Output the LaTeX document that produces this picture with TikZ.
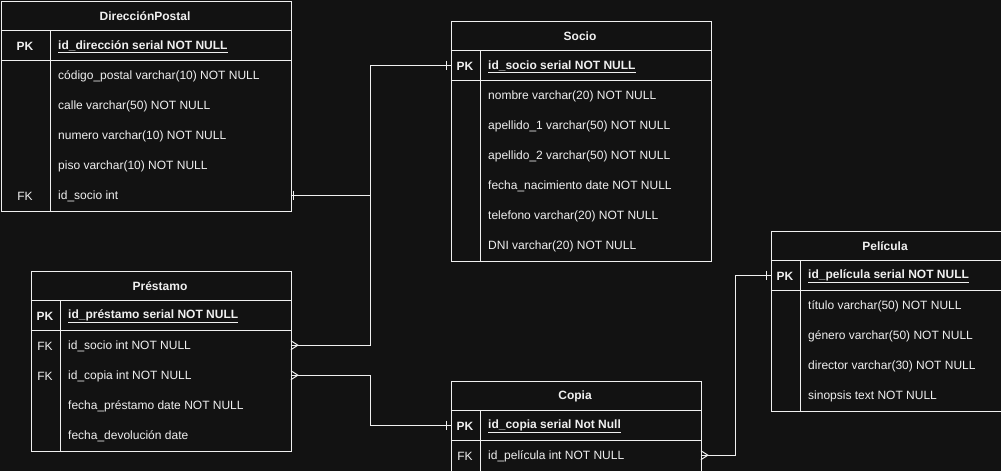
\documentclass[tikz,border=0pt]{standalone}
\usepackage{fontspec}
\setmainfont{Liberation Sans}
\definecolor{bg}{HTML}{121212}
\definecolor{fg}{HTML}{F0F0F0}
\begin{document}
\begin{tikzpicture}[x=1pt,y=-1pt,
  every node/.style={text=fg, font=\fontsize{12}{14}\selectfont, inner sep=0pt},
  tbox/.style={draw=fg, line width=1pt, anchor=north west},
  erow/.style={anchor=north west, minimum width=#1, minimum height=30pt},
  ttl/.style={font=\fontsize{12}{14}\selectfont\bfseries, yshift=-1.5pt},
  attr/.style={anchor=west, yshift=-1.5pt},
  keyt/.style={anchor=center, yshift=-1.5pt},
  pkt/.style={font=\fontsize{12}{14}\selectfont\bfseries, yshift=-1.5pt},
  eline/.style={draw=fg, line width=1pt},
  conn/.style={draw=fg, line width=1pt},
  endmark/.style={draw=fg, line width=1pt}]
\fill[bg] (0,0) rectangle (1001,471);
\useasboundingbox (0,0) rectangle (1001,471);

% ---------- DirecciónPostal ----------
\node[tbox, minimum width=290pt, minimum height=210pt] (dp) at (0.5,0.5) {};
\node[ttl] (dpT) at (145,15) {DirecciónPostal};
\draw[eline] (0.5,30) -- (290.5,30);
\draw[eline] (0.5,60) -- (290.5,60);
\draw[eline] (50,30) -- (50,210.5);
\node[erow=290pt] (dp1) at (0,30) {};
\node[pkt] at (25,45) {PK};
\node[attr] at (58,45) {\textbf{\underline{id\_dirección serial NOT NULL}}};
\node[attr] at (58,75) {código\_postal varchar(10) NOT NULL};
\node[attr] at (58,105) {calle varchar(50) NOT NULL};
\node[attr] at (58,135) {numero varchar(10) NOT NULL};
\node[attr] at (58,165) {piso varchar(10) NOT NULL};
\node[erow=290pt] (dp6) at (0.5,180) {};
\node[keyt] at (25,195) {FK};
\node[attr] at (58,195) {id\_socio int};

% ---------- Socio ----------
\node[tbox, minimum width=260pt, minimum height=240pt] (so) at (450.5,20.5) {};
\node[ttl] (soT) at (580,35) {Socio};
\draw[eline] (450.5,50) -- (710.5,50);
\draw[eline] (450.5,80) -- (710.5,80);
\draw[eline] (480,50) -- (480,260.5);
\node[erow=260pt] (so1) at (450.5,50) {};
\node[pkt] at (465,65) {PK};
\node[attr] at (488,65) {\textbf{\underline{id\_socio serial NOT NULL}}};
\node[attr] at (488,95) {nombre varchar(20) NOT NULL};
\node[attr] at (488,125) {apellido\_1 varchar(50) NOT NULL};
\node[attr] at (488,155) {apellido\_2 varchar(50) NOT NULL};
\node[attr] at (488,185) {fecha\_nacimiento date NOT NULL};
\node[attr] at (488,215) {telefono varchar(20) NOT NULL};
\node[attr] at (488,245) {DNI varchar(20) NOT NULL};

% ---------- Préstamo ----------
\node[tbox, minimum width=260pt, minimum height=180pt] (pr) at (30.5,270.5) {};
\node[ttl] (prT) at (160,285) {Préstamo};
\draw[eline] (30.5,300) -- (290.5,300);
\draw[eline] (30.5,330) -- (290.5,330);
\draw[eline] (60,300) -- (60,450.5);
\node[erow=260pt] (pr0) at (30.5,300) {};
\node[pkt] at (45,315) {PK};
\node[attr] at (68,315) {\textbf{\underline{id\_préstamo serial NOT NULL}}};
\node[erow=260pt] (pr1) at (30.5,330) {};
\node[keyt] at (45,345) {FK};
\node[attr] at (68,345) {id\_socio int NOT NULL};
\node[erow=260pt] (pr2) at (30.5,360) {};
\node[keyt] at (45,375) {FK};
\node[attr] at (68,375) {id\_copia int NOT NULL};
\node[attr] at (68,405) {fecha\_préstamo date NOT NULL};
\node[attr] at (68,435) {fecha\_devolución date};

% ---------- Copia ----------
\node[tbox, minimum width=250pt, minimum height=90pt] (co) at (450.5,380.5) {};
\node[ttl] (coT) at (575,395) {Copia};
\draw[eline] (450.5,410) -- (700.5,410);
\draw[eline] (450.5,440) -- (700.5,440);
\draw[eline] (480,410) -- (480,470.5);
\node[erow=250pt] (co1) at (450.5,410) {};
\node[pkt] at (465,425) {PK};
\node[attr] at (488,425) {\textbf{\underline{id\_copia serial Not Null}}};
\node[erow=250pt] (co2) at (450.5,440) {};
\node[keyt] at (465,455) {FK};
\node[attr] at (488,455) {id\_película int NOT NULL};

% ---------- Película ----------
\node[tbox, minimum width=230pt, minimum height=180pt] (pe) at (770.5,230.5) {};
\node[ttl] (peT) at (885,245) {Película};
\draw[eline] (770.5,260) -- (1000.5,260);
\draw[eline] (770.5,290) -- (1000.5,290);
\draw[eline] (800,260) -- (800,410.5);
\node[erow=230pt] (pe1) at (770.5,260) {};
\node[pkt] at (785,275) {PK};
\node[attr] at (808,275) {\textbf{\underline{id\_película serial NOT NULL}}};
\node[attr] at (808,305) {título varchar(50) NOT NULL};
\node[attr] at (808,335) {género varchar(50) NOT NULL};
\node[attr] at (808,365) {director varchar(30) NOT NULL};
\node[attr] at (808,395) {sinopsis text NOT NULL};

% ---------- Connectors ----------
\draw[conn] (dp6.east) -- ++(80,0) |- (so1.west);
\draw[conn] (pr1.east) -- ++(80,0) |- (so1.west);
\draw[conn] (pr2.east) -- ++(80,0) |- (co1.west);
\draw[conn] (co2.east) -- ++(35,0) |- (pe1.west);

% one-marks
\draw[endmark] (dp6.east) ++(3,-4.5) -- ++(0,9);
\draw[endmark] (so1.west) ++(-4,-4.5) -- ++(0,9);
\draw[endmark] (co1.west) ++(-4,-4.5) -- ++(0,9);
\draw[endmark] (pe1.west) ++(-4,-4.5) -- ++(0,9);
% many-marks
\draw[endmark] (pr1.east) ++(0,-4.5) -- ++(7,4.5) -- ++(-7,4.5);
\draw[endmark] (pr2.east) ++(0,-4.5) -- ++(7,4.5) -- ++(-7,4.5);
\draw[endmark] (co2.east) ++(0,-4.5) -- ++(7,4.5) -- ++(-7,4.5);
\end{tikzpicture}
\end{document}
